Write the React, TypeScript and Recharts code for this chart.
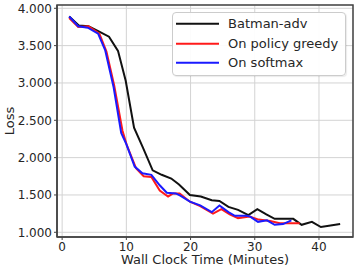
import React from 'react';
import { LineChart, Line, XAxis, YAxis, CartesianGrid, Legend, ReferenceArea } from 'recharts';

const batmanX = [1.1, 2.6, 4.1, 5.7, 7.3, 8.7, 9.9, 11.2, 12.6, 14.1, 15.5, 17.0, 18.2, 19.9, 21.6, 23.3, 24.5, 25.9, 27.4, 29.0, 30.4, 31.8, 33.1, 34.6, 36.0, 37.3, 38.9, 40.3, 41.8, 43.3];
const batmanY = [3.89, 3.77, 3.76, 3.69, 3.62, 3.43, 3.03, 2.40, 2.13, 1.83, 1.77, 1.72, 1.64, 1.50, 1.48, 1.43, 1.42, 1.34, 1.30, 1.23, 1.31, 1.24, 1.18, 1.18, 1.18, 1.10, 1.14, 1.07, 1.09, 1.11];

const greedyX = [1.1, 2.5, 4.1, 5.8, 6.9, 8.1, 9.4, 10.1, 11.5, 12.7, 13.9, 15.2, 16.5, 17.3, 18.3, 19.9, 21.5, 23.5, 24.8, 26.1, 27.4, 29.2, 30.6, 32.4, 33.9, 35.4, 37.0];
const greedyY = [3.87, 3.75, 3.76, 3.66, 3.42, 2.97, 2.36, 2.16, 1.86, 1.75, 1.74, 1.56, 1.48, 1.52, 1.52, 1.41, 1.35, 1.25, 1.31, 1.24, 1.19, 1.21, 1.17, 1.15, 1.12, 1.12, 1.12];

const softmaxX = [1.1, 2.5, 4.0, 5.6, 6.7, 8.0, 9.2, 10.0, 11.3, 12.5, 13.9, 15.2, 16.3, 17.7, 18.4, 19.9, 21.5, 23.3, 24.5, 25.9, 26.9, 28.7, 29.3, 30.5, 31.9, 33.1, 34.4, 35.7];
const softmaxY = [3.89, 3.76, 3.74, 3.66, 3.44, 2.95, 2.33, 2.18, 1.88, 1.79, 1.77, 1.63, 1.53, 1.52, 1.49, 1.41, 1.36, 1.27, 1.36, 1.27, 1.22, 1.22, 1.21, 1.14, 1.16, 1.10, 1.11, 1.16];

const seriesNames = ['Batman-adv', 'On policy greedy', 'On softmax'];
const seriesColors = ['#111111', '#ff1a1a', '#1a1aff'];

const xTicks = [0, 10, 20, 30, 40];
const yTicks = [1, 1.5, 2, 2.5, 3, 3.5, 4];
const xDomain: [number, number] = [-0.8, 45.3];
const yDomain: [number, number] = [0.937, 4.044];

const toPoints = (xs: number[], ys: number[]) => xs.map((x, i) => ({ x, y: ys[i] }));
const batmanData = toPoints(batmanX, batmanY);
const greedyData = toPoints(greedyX, greedyY);
const softmaxData = toPoints(softmaxX, softmaxY);

const textColor = '#262626';
const font = '"DejaVu Sans", sans-serif';

const renderLegend = (props: any) => {
  const payload = (props.payload || []) as any[];
  const order = seriesNames;
  const items = [...payload].sort((a, b) => order.indexOf(a.value) - order.indexOf(b.value));
  return (
    <div
      style={{
        width: 172,
        border: '1px solid #cccccc',
        borderRadius: 4,
        background: 'rgba(255,255,255,0.92)',
        padding: '1px 0 2px 0',
        boxShadow: '1px 1px 1px rgba(0,0,0,0.08)',
        fontFamily: font,
        fontSize: 13,
        color: textColor,
      }}
    >
      {items.map((it) => (
        <div key={it.value} style={{ height: 19.5, display: 'flex', alignItems: 'center' }}>
          <svg width={55} height={19.5} style={{ display: 'block' }}>
            <line x1={3} x2={46} y1={9.75} y2={9.75} stroke={it.color} strokeWidth={2} />
          </svg>
          <span style={{ lineHeight: '19.5px', whiteSpace: 'nowrap' }}>{it.value}</span>
        </div>
      ))}
    </div>
  );
};

export default function App() {
  return (
    <div style={{ position: 'absolute', left: 0, top: 0, width: 357, height: 271, background: '#fff', fontFamily: font }}>
      <LineChart width={357} height={271} margin={{ top: 5, right: 4, left: 0, bottom: 0 }}>
        <CartesianGrid stroke="#d3d3d3" strokeWidth={1} horizontal vertical />
        <XAxis
          type="number"
          dataKey="x"
          domain={xDomain}
          ticks={xTicks}
          allowDataOverflow
          height={34}
          tickSize={3}
          tickMargin={2}
          tick={{ fill: textColor, fontSize: 12, fontFamily: font }}
          tickLine={{ stroke: '#444' }}
          axisLine={{ stroke: '#444', strokeWidth: 1.5 }}
          tickFormatter={(v: number) => String(v)}
          label={{
            content: () => (
              <text x={205} y={264} textAnchor="middle" fill={textColor} fontSize={13} fontFamily={font}>
                Wall Clock Time (Minutes)
              </text>
            ),
          }}
        />
        <YAxis
          type="number"
          domain={yDomain}
          ticks={yTicks}
          allowDataOverflow
          width={57}
          tickSize={3}
          tickMargin={2}
          tick={{ fill: textColor, fontSize: 12, fontFamily: font }}
          tickLine={{ stroke: '#444' }}
          axisLine={{ stroke: '#444', strokeWidth: 1.5 }}
          tickFormatter={(v: number) => v.toFixed(3)}
          label={{
            content: () => (
              <text
                x={14}
                y={121}
                transform="rotate(-90 14 121)"
                textAnchor="middle"
                fill={textColor}
                fontSize={13}
                fontFamily={font}
              >
                Loss
              </text>
            ),
          }}
        />
        <ReferenceArea
          x1={xDomain[0]}
          x2={xDomain[1]}
          y1={yDomain[0]}
          y2={yDomain[1]}
          fill="none"
          stroke="#444"
          strokeWidth={1.5}
          ifOverflow="visible"
        />
        <Line data={batmanData} dataKey="y" name={seriesNames[0]} stroke={seriesColors[0]} strokeWidth={2} dot={false} isAnimationActive={false} />
        <Line data={greedyData} dataKey="y" name={seriesNames[1]} stroke={seriesColors[1]} strokeWidth={2} dot={false} isAnimationActive={false} />
        <Line data={softmaxData} dataKey="y" name={seriesNames[2]} stroke={seriesColors[2]} strokeWidth={2} dot={false} isAnimationActive={false} />
        <Legend
          layout="vertical"
          align="center"
          verticalAlign="middle"
          content={renderLegend}
          wrapperStyle={{ position: 'absolute', left: 172, top: 12, width: 174 }}
        />
      </LineChart>
    </div>
  );
}
